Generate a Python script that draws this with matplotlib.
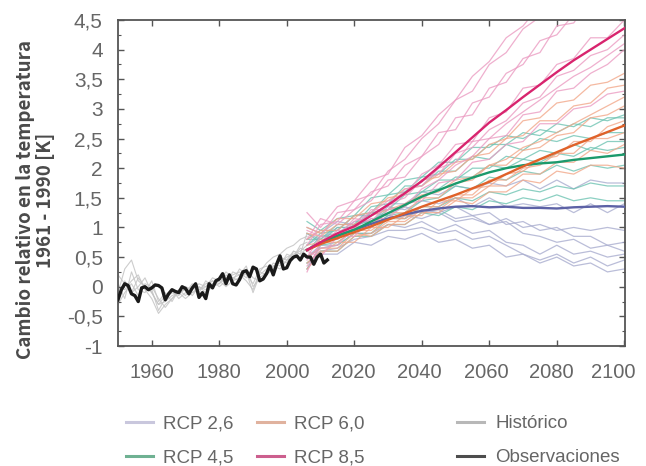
import matplotlib
matplotlib.use("Agg")
import matplotlib.pyplot as plt
from matplotlib.lines import Line2D
from matplotlib.transforms import ScaledTranslation
from matplotlib.ticker import MultipleLocator, FixedLocator, FixedFormatter

# ---------------- data ----------------
obs_years = list(range(1950, 2013))
obs_vals = [-0.22, -0.05, 0.05, 0.02, -0.12, -0.15, -0.25, -0.02, 0.0, -0.05,
            -0.02, 0.03, 0.02, -0.02, -0.22, -0.12, -0.05, -0.08, -0.1, 0.0,
            -0.03, -0.12, -0.02, 0.05, -0.18, -0.1, -0.2, 0.05, -0.02, 0.1,
            0.13, 0.22, 0.05, 0.2, 0.05, 0.03, 0.12, 0.25, 0.27, 0.17,
            0.33, 0.3, 0.1, 0.13, 0.22, 0.35, 0.2, 0.38, 0.52, 0.3,
            0.32, 0.44, 0.5, 0.52, 0.45, 0.55, 0.5, 0.5, 0.38, 0.5,
            0.55, 0.4, 0.45]

hist_years = list(range(1950, 2007, 2))
hist_1 = [-0.1, 0.3, 0.45, 0.1, 0.0, -0.1, -0.3, -0.25, -0.15, -0.1, -0.05, -0.1, -0.05, 0.05, 0.1,
          0.05, 0.15, 0.2, 0.25, 0.15, 0.3, 0.25, 0.4, 0.5, 0.55, 0.65, 0.7, 0.8, 0.85]
hist_2 = [0.2, 0.05, -0.1, 0.15, 0.0, -0.05, -0.4, -0.2, -0.1, -0.15, 0.0, -0.05, 0.05, 0.0, 0.15,
          0.1, 0.25, 0.15, 0.1, 0.25, -0.1, 0.2, 0.3, 0.35, 0.4, 0.5, 0.55, 0.6, 0.7]
hist_3 = [-0.3, -0.1, 0.05, -0.15, 0.05, 0.0, -0.2, -0.35, -0.2, -0.05, -0.15, 0.0, -0.1, 0.1, 0.0,
          0.05, 0.2, 0.1, 0.3, 0.2, 0.05, 0.3, 0.35, 0.25, 0.45, 0.4, 0.6, 0.55, 0.65]
hist_4 = [0.05, -0.2, 0.25, -0.05, -0.1, 0.1, -0.25, -0.1, -0.25, -0.05, 0.0, -0.15, 0.0, -0.05, 0.05,
          0.15, 0.05, 0.25, 0.2, 0.35, 0.0, 0.15, 0.25, 0.4, 0.35, 0.55, 0.5, 0.65, 0.6]
hist_5 = [-0.15, 0.1, -0.1, 0.0, 0.15, -0.1, -0.3, -0.15, -0.05, -0.2, -0.1, 0.05, -0.05, 0.0, 0.1,
          0.0, 0.1, 0.15, 0.2, 0.1, -0.05, 0.25, 0.2, 0.3, 0.5, 0.45, 0.5, 0.7, 0.75]
hist_6 = [0.0, -0.05, 0.1, 0.2, -0.05, -0.2, -0.45, -0.3, -0.2, -0.1, -0.2, -0.1, 0.0, -0.1, 0.0,
          0.1, 0.0, 0.1, 0.15, 0.3, 0.15, 0.1, 0.2, 0.35, 0.3, 0.45, 0.6, 0.55, 0.9]
hist_members = [hist_1, hist_2, hist_3, hist_4, hist_5, hist_6]

proj_years = [2006, 2010, 2015, 2020, 2025, 2030, 2035, 2040, 2045, 2050,
              2055, 2060, 2065, 2070, 2075, 2080, 2085, 2090, 2095, 2100]

mean_85 = [0.62, 0.75, 0.9, 1.02, 1.2, 1.38, 1.58, 1.78, 2.02, 2.27, 2.52, 2.77, 2.98, 3.2, 3.41, 3.62, 3.82, 4.0, 4.18, 4.36]
mean_60 = [0.62, 0.72, 0.82, 0.92, 1.02, 1.13, 1.24, 1.35, 1.45, 1.55, 1.66, 1.77, 1.9, 2.03, 2.15, 2.27, 2.39, 2.5, 2.61, 2.72]
mean_45 = [0.62, 0.74, 0.86, 0.96, 1.1, 1.24, 1.38, 1.52, 1.63, 1.74, 1.84, 1.93, 2.0, 2.05, 2.08, 2.1, 2.14, 2.17, 2.2, 2.23]
mean_26 = [0.62, 0.74, 0.86, 0.96, 1.06, 1.15, 1.22, 1.28, 1.32, 1.35, 1.36, 1.34, 1.35, 1.33, 1.33, 1.32, 1.34, 1.35, 1.36, 1.35]

rcp85_a = [0.7, 1.05, 1.1, 1.45, 1.55, 1.95, 2.15, 2.5, 2.75, 3.15, 3.3, 3.75, 3.95, 4.35, 4.55, 4.95, 5.05, 5.35, 5.45, 5.7]
rcp85_b = [0.95, 0.85, 1.25, 1.3, 1.6, 1.7, 2.05, 2.2, 2.6, 2.65, 3.1, 3.2, 3.6, 3.75, 4.15, 4.25, 4.6, 4.75, 5.0, 5.1]
rcp85_c = [0.5, 0.85, 0.8, 1.1, 1.25, 1.45, 1.55, 1.9, 2.05, 2.4, 2.45, 2.85, 2.95, 3.35, 3.4, 3.75, 3.85, 4.2, 4.2, 4.5]
rcp85_d = [0.35, 0.65, 0.7, 1.0, 1.0, 1.3, 1.35, 1.65, 1.8, 2.05, 2.2, 2.5, 2.55, 2.9, 2.95, 3.3, 3.35, 3.6, 3.75, 4.0]
rcp85_e = [0.6, 0.5, 0.85, 0.85, 1.15, 1.15, 1.4, 1.45, 1.75, 1.8, 2.1, 2.15, 2.4, 2.45, 2.75, 2.75, 3.0, 3.05, 3.25, 3.3]
rcp85_f = [1.25, 1.0, 1.35, 1.45, 1.8, 1.9, 2.35, 2.55, 2.9, 3.15, 3.55, 3.8, 4.2, 4.4, 4.75, 4.95, 5.25, 5.35, 5.65, 5.8]
rcp85_g = [0.25, 0.75, 0.85, 1.15, 1.1, 1.4, 1.5, 1.8, 1.9, 2.25, 2.35, 2.65, 2.8, 3.1, 3.2, 3.55, 3.65, 3.9, 4.0, 4.25]
rcp85_h = [0.8, 1.15, 1.05, 1.3, 1.45, 1.8, 1.85, 2.2, 2.4, 2.85, 2.9, 3.35, 3.45, 3.85, 3.95, 4.4, 4.45, 4.85, 4.9, 5.2]
rcp85_i = [0.45, 0.7, 0.95, 0.95, 1.3, 1.3, 1.65, 1.7, 2.0, 2.1, 2.45, 2.5, 2.75, 2.95, 3.15, 3.35, 3.55, 3.7, 3.9, 4.1]

rcp60_a = [0.8, 0.95, 0.95, 1.2, 1.25, 1.5, 1.55, 1.8, 1.85, 2.1, 2.15, 2.4, 2.5, 2.8, 2.85, 3.1, 3.15, 3.4, 3.45, 3.6]
rcp60_b = [0.5, 0.65, 0.65, 0.9, 0.85, 1.05, 1.05, 1.25, 1.25, 1.45, 1.4, 1.6, 1.6, 1.8, 1.75, 1.95, 1.9, 2.05, 2.05, 2.0]
rcp60_c = [0.6, 0.8, 0.8, 1.0, 1.05, 1.25, 1.25, 1.5, 1.5, 1.75, 1.8, 2.05, 2.05, 2.3, 2.35, 2.55, 2.6, 2.85, 2.9, 3.05]
rcp60_d = [0.4, 0.6, 0.6, 0.85, 0.9, 1.1, 1.1, 1.3, 1.3, 1.5, 1.5, 1.7, 1.7, 1.9, 1.9, 2.1, 2.1, 2.3, 2.25, 2.4]
rcp60_e = [1.0, 0.9, 1.15, 1.15, 1.4, 1.45, 1.65, 1.7, 1.9, 1.95, 2.2, 2.25, 2.5, 2.55, 2.8, 2.8, 3.05, 3.1, 3.35, 3.4]
rcp60_f = [0.7, 0.75, 0.75, 0.95, 0.95, 1.15, 1.15, 1.35, 1.35, 1.55, 1.55, 1.8, 1.8, 2.0, 2.05, 2.25, 2.25, 2.5, 2.5, 2.6]
rcp60_g = [0.3, 0.55, 0.75, 0.75, 1.0, 1.0, 1.2, 1.2, 1.45, 1.45, 1.65, 1.7, 1.9, 1.95, 2.15, 2.2, 2.45, 2.45, 2.7, 2.8]
rcp60_h = [0.9, 0.85, 1.05, 1.05, 1.2, 1.3, 1.4, 1.55, 1.6, 1.8, 1.85, 2.05, 2.15, 2.35, 2.45, 2.6, 2.75, 2.9, 3.05, 3.2]

rcp45_a = [0.7, 0.9, 0.95, 1.2, 1.25, 1.55, 1.6, 1.85, 1.9, 2.15, 2.15, 2.4, 2.4, 2.6, 2.55, 2.75, 2.7, 2.85, 2.8, 2.9]
rcp45_b = [0.5, 0.65, 0.7, 0.9, 0.9, 1.15, 1.15, 1.35, 1.35, 1.5, 1.45, 1.6, 1.55, 1.65, 1.6, 1.7, 1.65, 1.75, 1.7, 1.7]
rcp45_c = [0.9, 0.75, 1.0, 1.0, 1.25, 1.3, 1.55, 1.6, 1.8, 1.8, 2.0, 2.0, 2.2, 2.15, 2.3, 2.25, 2.4, 2.3, 2.45, 2.45]
rcp45_d = [0.4, 0.6, 0.6, 0.85, 0.85, 1.05, 1.05, 1.25, 1.2, 1.35, 1.3, 1.45, 1.4, 1.5, 1.45, 1.55, 1.45, 1.5, 1.45, 1.45]
rcp45_e = [0.6, 0.85, 0.85, 1.05, 1.1, 1.3, 1.35, 1.6, 1.65, 1.85, 1.85, 2.05, 2.0, 2.15, 2.1, 2.25, 2.2, 2.35, 2.3, 2.35]
rcp45_f = [1.1, 0.95, 1.15, 1.2, 1.5, 1.55, 1.8, 1.85, 2.1, 2.1, 2.35, 2.35, 2.55, 2.5, 2.65, 2.6, 2.75, 2.7, 2.85, 2.85]
rcp45_g = [0.3, 0.7, 0.75, 0.95, 1.0, 1.2, 1.25, 1.45, 1.5, 1.7, 1.65, 1.85, 1.8, 1.95, 1.9, 2.05, 1.95, 2.05, 2.0, 2.05]
rcp45_h = [0.8, 0.8, 1.05, 1.05, 1.35, 1.4, 1.7, 1.7, 1.95, 1.95, 2.2, 2.15, 2.4, 2.3, 2.5, 2.45, 2.55, 2.5, 2.6, 2.6]

rcp26_a = [0.6, 0.75, 0.8, 1.0, 1.0, 1.2, 1.15, 1.3, 1.25, 1.35, 1.2, 1.25, 1.05, 1.1, 0.95, 1.0, 0.85, 0.85, 0.7, 0.75]
rcp26_b = [0.4, 0.55, 0.55, 0.75, 0.7, 0.85, 0.8, 0.9, 0.75, 0.8, 0.65, 0.7, 0.5, 0.55, 0.4, 0.5, 0.35, 0.4, 0.25, 0.3]
rcp26_c = [0.8, 0.95, 0.95, 1.2, 1.2, 1.4, 1.4, 1.6, 1.55, 1.7, 1.65, 1.75, 1.7, 1.8, 1.65, 1.8, 1.65, 1.8, 1.75, 1.75]
rcp26_d = [0.5, 0.7, 0.7, 0.9, 0.9, 1.05, 1.0, 1.1, 0.95, 1.05, 0.9, 0.95, 0.75, 0.7, 0.55, 0.7, 0.55, 0.6, 0.5, 0.55]
rcp26_e = [0.7, 0.85, 0.9, 1.1, 1.1, 1.35, 1.3, 1.45, 1.4, 1.5, 1.35, 1.5, 1.35, 1.4, 1.35, 1.4, 1.25, 1.4, 1.25, 1.4]
rcp26_f = [1.0, 0.9, 1.1, 1.05, 1.25, 1.2, 1.35, 1.25, 1.3, 1.15, 1.2, 1.05, 1.15, 1.0, 1.05, 0.95, 1.0, 0.95, 1.0, 0.95]
rcp26_g = [0.3, 0.6, 0.65, 0.8, 0.85, 0.95, 0.95, 1.0, 0.9, 0.95, 0.8, 0.85, 0.7, 0.55, 0.45, 0.55, 0.4, 0.5, 0.35, 0.45]
rcp26_h = [0.9, 0.8, 1.0, 1.0, 1.15, 1.15, 1.2, 1.15, 1.25, 1.1, 1.15, 1.05, 1.1, 0.9, 0.85, 0.75, 0.8, 0.65, 0.7, 0.6]

members_85 = [rcp85_a, rcp85_b, rcp85_c, rcp85_d, rcp85_e, rcp85_f, rcp85_g, rcp85_h, rcp85_i]
members_60 = [rcp60_a, rcp60_b, rcp60_c, rcp60_d, rcp60_e, rcp60_f, rcp60_g, rcp60_h]
members_45 = [rcp45_a, rcp45_b, rcp45_c, rcp45_d, rcp45_e, rcp45_f, rcp45_g, rcp45_h]
members_26 = [rcp26_a, rcp26_b, rcp26_c, rcp26_d, rcp26_e, rcp26_f, rcp26_g, rcp26_h]

x_ticks = [1960, 1980, 2000, 2020, 2040, 2060, 2080, 2100]
y_ticks = [-1, -0.5, 0, 0.5, 1, 1.5, 2, 2.5, 3, 3.5, 4, 4.5]
y_ticklabels = ["-1", "-0,5", "0", "0,5", "1", "1,5", "2", "2,5", "3", "3,5", "4", "4,5"]
legend_rcp = ["RCP 2,6", "RCP 4,5", "RCP 6,0", "RCP 8,5"]
legend_other = ["Histórico", "Observaciones"]
ylabel = "Cambio relativo en la temperatura\n1961 - 1990 [K]"

# ---------------- style ----------------
LAB_FONT = ["Noto Sans CJK JP", "DejaVu Sans"]
TICK_FONT = ["Liberation Sans", "DejaVu Sans"]
plt.rcParams["font.family"] = TICK_FONT
TXT = "#666666"

c26_m, c45_m, c60_m, c85_m = "#a9adcf", "#6fc4b3", "#f2a88a", "#eb9cc2"
c26, c45, c60, c85 = "#5d62a6", "#1b9a6c", "#e0622a", "#d8246e"

fig = plt.figure(figsize=(6.46, 4.66), dpi=100)
ax = fig.add_axes([118 / 646, 1 - 346 / 466, 507 / 646, 326 / 466])

for m in hist_members:
    ax.plot(hist_years, m, color="#c4c4c4", lw=0.8, alpha=0.85, zorder=1)

for group, col in [(members_26, c26_m), (members_45, c45_m),
                   (members_60, c60_m), (members_85, c85_m)]:
    for m in group:
        ax.plot(proj_years, m, color=col, lw=0.9, alpha=0.8, zorder=2)

ax.plot(obs_years, obs_vals, color="#1a1a1a", lw=2.4, zorder=5, solid_joinstyle="round")

ax.plot(proj_years, mean_26, color=c26, lw=1.7, zorder=4)
ax.plot(proj_years, mean_45, color=c45, lw=1.7, zorder=4)
ax.plot(proj_years, mean_60, color=c60, lw=1.7, zorder=4)
ax.plot(proj_years, mean_85, color=c85, lw=1.7, zorder=4)

ax.set_xlim(1950, 2100.2)
ax.set_ylim(-1, 4.5)

ax.xaxis.set_major_locator(FixedLocator(x_ticks))
ax.yaxis.set_major_locator(FixedLocator(y_ticks))
ax.yaxis.set_major_formatter(FixedFormatter(y_ticklabels))
ax.yaxis.set_minor_locator(MultipleLocator(0.25))
ax.tick_params(axis="both", which="both", direction="in", top=True, right=True,
               color="#555555", labelcolor=TXT)
ax.tick_params(axis="x", labelsize=14.5, pad=12)
ax.tick_params(axis="y", labelsize=15, pad=11)
ax.tick_params(which="major", length=4, width=1)
ax.tick_params(which="minor", length=2.5, width=0.8)
for s in ax.spines.values():
    s.set_color("#555555")
    s.set_linewidth(1.3)

# slight leftward drift of the right-most year labels, as in the original
x_shift_px = [0, 0, 0, -1, -2, -3, -6, -11]
for tick, dx in zip(ax.xaxis.get_major_ticks(), x_shift_px):
    lab = tick.label1
    lab.set_transform(lab.get_transform() + ScaledTranslation(dx / 100, 0, fig.dpi_scale_trans))

ax.set_ylabel(ylabel, fontsize=13.5, fontweight="bold", color="#4a4a4a",
              linespacing=1.05, family=LAB_FONT)
ax.yaxis.set_label_coords(-0.124, 0.448)

legend_prop = {"family": TICK_FONT, "size": 13.5}
h_rcp = [Line2D([], [], color=c, lw=2.2) for c in ["#c9c7dd", "#6fb192", "#e0b29e", "#cc5f8e"]]
leg1 = fig.legend(h_rcp, legend_rcp, ncol=2, loc="upper left",
                  bbox_to_anchor=(126 / 646, 1 - 415 / 466), frameon=False,
                  borderpad=0, borderaxespad=0,
                  handlelength=1.44, handletextpad=0.53,
                  columnspacing=1.28, labelspacing=0.9, prop=legend_prop)
for t in leg1.get_texts():
    t.set_color(TXT)
h_oth = [Line2D([], [], color=c, lw=2.2) for c in ["#b8b8b8", "#4d4d4d"]]
leg2 = fig.legend(h_oth, legend_other, ncol=1, loc="upper left",
                  bbox_to_anchor=(457 / 646, 1 - 415 / 466), frameon=False,
                  borderpad=0, borderaxespad=0,
                  handlelength=1.44, handletextpad=0.6, labelspacing=0.9,
                  prop=legend_prop)
for t in leg2.get_texts():
    t.set_color(TXT)

fig.savefig("out.png", dpi=100)
